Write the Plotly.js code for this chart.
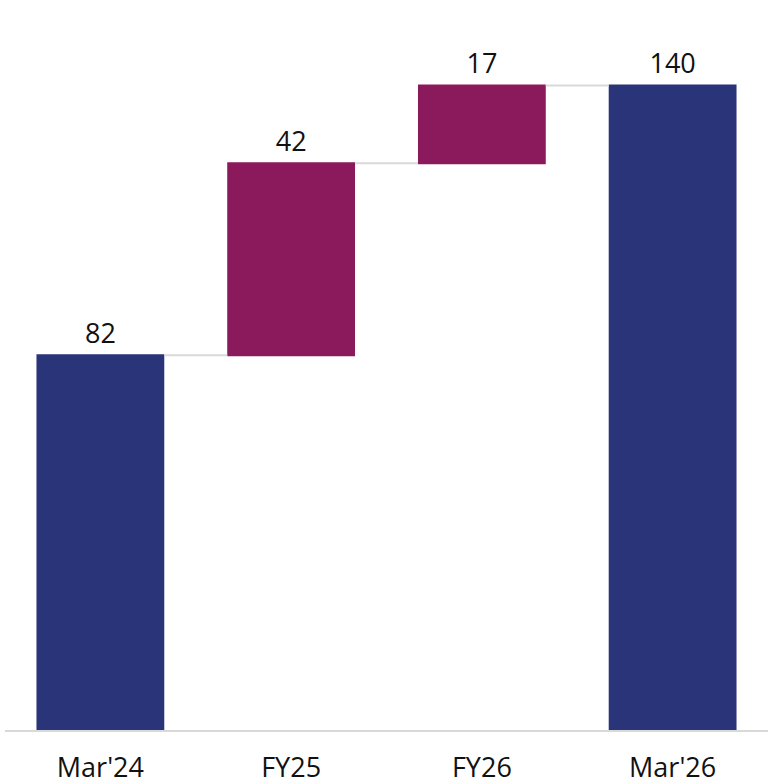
<!DOCTYPE html>
<html>
<head>
<meta charset="utf-8">
<script src="https://cdn.plot.ly/plotly-3.0.1.min.js"></script>
<style>html,body{margin:0;padding:0;background:#fff;}#chart{width:768px;height:784px;}</style>
</head>
<body>
<div id="chart"></div>
<script>
const categories = ["Mar'24", "FY25", "FY26", "Mar'26"];
const measures = ["absolute", "relative", "relative", "total"];
const values = [82, 42, 17, 0];
const labels = ["82", "42", "17", "140"];

const navy = "#2A3478";
const magenta = "#8B1A5D";

const trace = {
  type: "waterfall",
  x: categories,
  y: values,
  measure: measures,
  text: labels,
  textposition: "outside",
  texttemplate: "%{text}",
  cliponaxis: false,
  textfont: {family: "Open Sans, Noto Sans, sans-serif", size: 27, color: "#111"},
  increasing: {marker: {color: magenta}},
  decreasing: {marker: {color: magenta}},
  totals: {marker: {color: navy}},
  connector: {mode: "between", line: {color: "#d9d9d9", width: 2}},
  hoverinfo: "none"
};

const layout = {
  width: 768, height: 784,
  margin: {l: 5, r: 0, t: 42, b: 54},
  paper_bgcolor: "#fff", plot_bgcolor: "#fff",
  showlegend: false,
  waterfallgap: 0.33,
  font: {family: "Open Sans, Noto Sans, sans-serif", color: "#111"},
  xaxis: {
    type: "category",
    showline: true, linecolor: "#d9d9d9", linewidth: 2,
    showgrid: false, zeroline: false, ticks: "",
    tickfont: {size: 27, color: "#111"},
    ticklabelstandoff: 13
  },
  yaxis: {
    range: [0, 150.5], visible: false, showgrid: false, zeroline: false
  }
};

Plotly.newPlot("chart", [trace], layout, {displayModeBar: false, staticPlot: true});
</script>
</body>
</html>
